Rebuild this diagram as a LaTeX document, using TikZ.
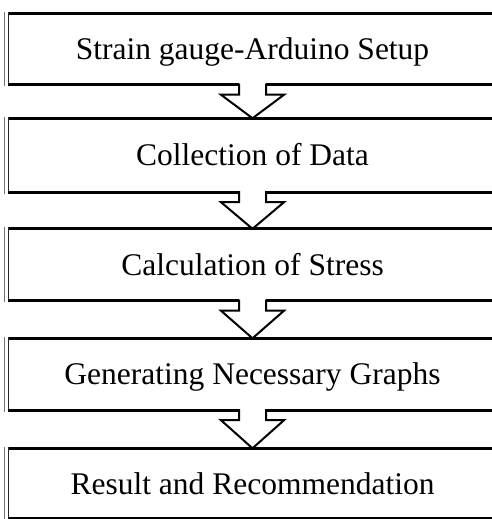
\documentclass[tikz,border=0pt]{standalone}
\usepackage{fontspec}
\setmainfont{Liberation Serif}
\usetikzlibrary{calc}
\tikzset{
  stepbox/.style={rectangle, draw=none, inner sep=0pt, minimum width=488pt},
  steptext/.style={anchor=base, inner sep=0pt, font=\fontsize{31.5}{36}\selectfont},
  edgethick/.style={line width=3pt, line cap=butt},
  edgeinner/.style={line width=1.4pt, black!85},
  edgeouter/.style={line width=0.9pt, black!55},
  blockarrow/.style={line width=2pt, line join=miter, black},
}
\newcommand{\flowbox}[4]{% name, top, bottom, text
  \node[stepbox, minimum height=#3pt-#2pt] (#1) at (252.5,{(#2+#3)/2}) {};
  \node[steptext] (#1t) at ($(#1.center)+(0,10.5)$) {#4};
  \draw[edgethick] ($(#1.north west)+(-0.7,0)$) -- ($(#1.north east)$);
  \draw[edgeinner] ($(#1.north west)+(0,-1.5)$) -- ($(#1.south west)+(0,1.5)$);
  \draw[edgeouter] ($(#1.north west)+(-3.5,-1.5)$) -- ($(#1.south west)+(-3.5,1.5)$);
}
\newcommand{\flowarrow}[2]{% from, to
  \draw[edgethick] ($(#1.south west)+(-0.7,0)$) -- ($(#1.south)+(-13.5,0)$);
  \draw[edgethick] ($(#1.south)+(13.5,0)$) -- (#1.south east);
  \draw[blockarrow] ($(#1.south)+(-13.5,-1)$) -- ($(#1.south)+(-13.5,10)$)
     -- ($(#1.south)+(-31.5,10)$) -- (#2.north) -- ($(#1.south)+(31.5,10)$)
     -- ($(#1.south)+(13.5,10)$) -- ($(#1.south)+(13.5,-1)$);
}
\begin{document}
\begin{tikzpicture}[x=1pt,y=-1pt]
\useasboundingbox (0,0) rectangle (492,519);
\clip (0,0) rectangle (492,519);
\flowbox{b1}{13.5}{84.5}{Strain gauge-Arduino Setup}
\flowbox{b2}{118.5}{192}{Collection of Data}
\flowbox{b3}{229}{300.5}{Calculation of Stress}
\flowbox{b4}{338.5}{410}{Generating Necessary Graphs}
\flowbox{b5}{448.5}{518.5}{Result and Recommendation}
\flowarrow{b1}{b2}
\flowarrow{b2}{b3}
\flowarrow{b3}{b4}
\flowarrow{b4}{b5}
\draw[edgethick] (b5.south west) -- (b5.south east);
\end{tikzpicture}
\end{document}
